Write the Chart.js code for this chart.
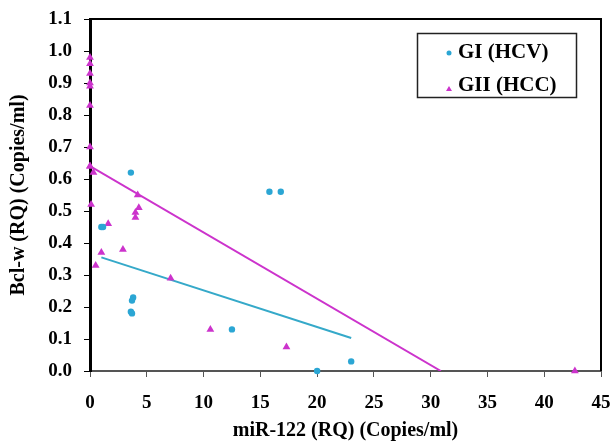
<!DOCTYPE html>
<html>
<head>
<meta charset="utf-8">
<script src="https://cdn.jsdelivr.net/npm/chart.js@4.4.1/dist/chart.umd.min.js"></script>
<style>
  html, body { margin: 0; padding: 0; background: #fff; }
  #wrap { width: 611px; height: 445px; }
</style>
</head>
<body>
<div id="wrap"><canvas id="chart" width="611" height="445"></canvas></div>
<script>
// GI (HCV) points
const hcvX = [3.6, 1.0, 1.15, 3.8, 3.7, 3.6, 3.7, 15.8, 16.8, 12.5, 20.0, 23.0];
const hcvY = [0.62, 0.45, 0.45, 0.23, 0.22, 0.185, 0.18, 0.56, 0.56, 0.13, 0.0, 0.03];

// GII (HCC) points
const hccX = [0, 0, 0, 0, 0, 0, 0, 0, 0, 0.3, 0.1, 4.2, 4.0, 4.3, 4.0, 1.6, 1.0, 0.5, 2.9, 7.1, 10.6, 17.3, 42.7];
const hccY = [0.98, 0.96, 0.93, 0.90, 0.89, 0.83, 0.70, 0.64, 0.64, 0.62, 0.52, 0.55, 0.495, 0.51, 0.48, 0.46, 0.37, 0.33, 0.38, 0.29, 0.13, 0.075, 0.0];

// linear trend lines (end points)
const hcvTrendX = [1.0, 23.0];
const hcvTrendY = [0.355, 0.103];
const hccTrendX = [0, 30.9];
const hccTrendY = [0.64, 0.0];

const seriesNames = ["GI (HCV)", "GII (HCC)"];
const yTicks = [0, 0.1, 0.2, 0.3, 0.4, 0.5, 0.6, 0.7, 0.8, 0.9, 1.0, 1.1];

const cyan = "#2ba6d4";
const magenta = "#cc33cc";
const serif = "'Liberation Serif', 'Times New Roman', serif";

const pts = (xs, ys) => xs.map((x, i) => ({ x: x, y: ys[i] }));

// box around the plot + custom legend
const frame = {
  id: "frame",
  afterDraw(chart) {
    const { ctx, chartArea: a } = chart;
    ctx.save();
    ctx.strokeStyle = "#000";
    ctx.lineWidth = 2;
    ctx.beginPath();
    ctx.moveTo(a.left, a.top);
    ctx.lineTo(a.right, a.top);
    ctx.lineTo(a.right, a.bottom);
    ctx.stroke();

    // legend box
    ctx.lineWidth = 1.5;
    ctx.strokeStyle = "#222";
    ctx.strokeRect(417.5, 33.5, 159, 64);
    ctx.font = "bold 21px " + serif;
    ctx.fillStyle = "#000";
    ctx.textBaseline = "middle";
    ctx.fillText(seriesNames[0], 458, 53);
    ctx.fillText(seriesNames[1], 458, 86);
    ctx.fillStyle = cyan;
    ctx.beginPath();
    ctx.arc(449, 53, 2.5, 0, Math.PI * 2);
    ctx.fill();
    ctx.fillStyle = magenta;
    ctx.beginPath();
    ctx.moveTo(449, 86);
    ctx.lineTo(452, 91);
    ctx.lineTo(446, 91);
    ctx.closePath();
    ctx.fill();
    ctx.restore();
  },
};

new Chart(document.getElementById("chart"), {
  type: "scatter",
  data: {
    datasets: [
      {
        label: seriesNames[0],
        data: pts(hcvX, hcvY),
        backgroundColor: cyan,
        borderColor: cyan,
        pointStyle: "circle",
        pointRadius: 3.2,
        pointBorderWidth: 0,
        clip: false,
      },
      {
        label: seriesNames[1],
        data: pts(hccX, hccY),
        backgroundColor: magenta,
        borderColor: magenta,
        pointStyle: "triangle",
        pointRadius: 4.5,
        pointBorderWidth: 0,
        clip: false,
      },
      {
        type: "line",
        data: pts(hcvTrendX, hcvTrendY),
        borderColor: "#35a9c9",
        borderWidth: 2,
        pointRadius: 0,
        fill: false,
      },
      {
        type: "line",
        data: pts(hccTrendX, hccTrendY),
        borderColor: magenta,
        borderWidth: 2,
        pointRadius: 0,
        fill: false,
      },
    ],
  },
  options: {
    responsive: false,
    animation: false,
    layout: { padding: { top: 19, right: 10, left: 0, bottom: 0 } },
    plugins: {
      legend: { display: false },
      tooltip: { enabled: false },
    },
    scales: {
      x: {
        type: "linear",
        min: 0,
        max: 45,
        afterFit: (s) => {
          s.height = 74;
          s.paddingLeft = 0;
          s.paddingRight = 0;
        },
        ticks: {
          stepSize: 5,
          color: "#000",
          padding: 15,
          maxRotation: 0,
          font: { family: serif, size: 19, weight: "bold" },
        },
        grid: { drawOnChartArea: false, color: "#555", tickLength: 6, lineWidth: 1 },
        border: { color: "#555", width: 2 },
        title: {
          display: true,
          text: "miR-122 (RQ) (Copies/ml)",
          color: "#000",
          font: { family: serif, size: 20, weight: "bold" },
          padding: { top: 0, bottom: 2 },
        },
      },
      y: {
        type: "linear",
        min: 0,
        max: 1.1,
        afterFit: (s) => {
          s.width = 90;
          s.paddingTop = 0;
          s.paddingBottom = 0;
        },
        afterBuildTicks: (s) => { s.ticks = yTicks.map((v) => ({ value: v })); },
        ticks: {
          color: "#000",
          padding: 12,
          callback: (v) => v.toFixed(1),
          font: { family: serif, size: 19, weight: "bold" },
        },
        grid: { drawOnChartArea: false, color: "#000", tickLength: 6, lineWidth: 1 },
        border: { color: "#000", width: 3 },
        title: {
          display: true,
          text: "Bcl-w (RQ) (Copies/ml)",
          color: "#000",
          font: { family: serif, size: 20, weight: "bold" },
          padding: { top: 7, bottom: 0 },
        },
      },
    },
  },
  plugins: [frame],
});
</script>
</body>
</html>
